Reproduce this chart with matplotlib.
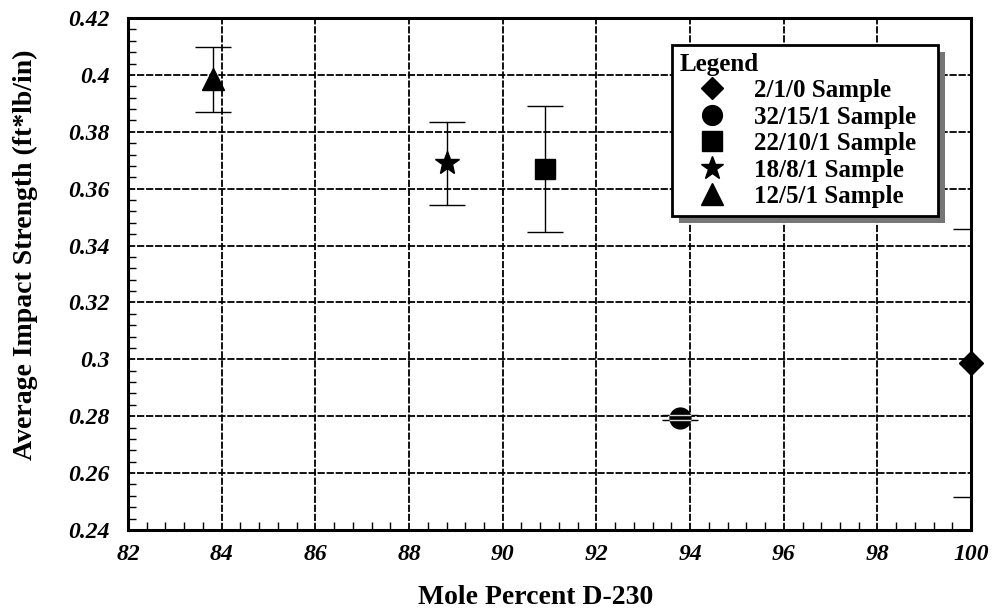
import matplotlib
matplotlib.use("Agg")
import matplotlib.pyplot as plt
from matplotlib.ticker import MultipleLocator, FuncFormatter
from matplotlib.lines import Line2D
from matplotlib.patches import Rectangle
from matplotlib.transforms import IdentityTransform

plt.rcParams['font.family'] = ['Liberation Serif', 'DejaVu Serif']

# Data
samples = ["2/1/0 Sample", "32/15/1 Sample", "22/10/1 Sample", "18/8/1 Sample", "12/5/1 Sample"]
mole_pct = [100.0, 93.79, 90.9, 88.81, 83.82]
impact = [0.2987, 0.2795, 0.3669, 0.369, 0.3985]
err = [0.047, 0.001, 0.022, 0.0146, 0.0114]
markers = ["D", "o", "s", "*", "^"]
msizes = [12, 15, 15, 18, 16]

xticks = [82, 84, 86, 88, 90, 92, 94, 96, 98, 100]
yticks = [0.24, 0.26, 0.28, 0.30, 0.32, 0.34, 0.36, 0.38, 0.40, 0.42]

fig = plt.figure(figsize=(9.92, 6.13), dpi=100)
ax = fig.add_axes([0.129, 0.1354, 0.850, 0.8352])

for x, y, e, m, s in zip(mole_pct, impact, err, markers, msizes):
    ax.errorbar(x, y, yerr=e, fmt='none', ecolor='black', elinewidth=1.0,
                capsize=13, capthick=1.0, zorder=3)
    ax.plot(x, y, marker=m, markersize=s, color='black', linestyle='none',
            zorder=4, clip_on=False)
    if e < 0.002:
        ax.errorbar(x, y, yerr=e, fmt='none', ecolor='#dddddd', elinewidth=0,
                    capsize=8, capthick=1.0, zorder=5)

ax.set_xlim(82, 100)
ax.set_ylim(0.24, 0.42)
ax.set_xticks(xticks)
ax.set_yticks(yticks)
ax.xaxis.set_minor_locator(MultipleLocator(0.4))
ax.yaxis.set_minor_locator(MultipleLocator(0.004))

def yfmt(v, pos):
    return f"{v:.2f}".rstrip('0').rstrip('.')
ax.yaxis.set_major_formatter(FuncFormatter(yfmt))
ax.xaxis.set_major_formatter(FuncFormatter(lambda v, p: f"{int(round(v))}"))

ax.grid(True, which='major', color='black', linestyle=(0, (4, 1)), linewidth=1.3, zorder=1)
ax.set_axisbelow(True)

ax.tick_params(axis='both', which='both', direction='in', top=False, right=False)
ax.tick_params(axis='both', which='major', length=0)
ax.tick_params(axis='y', which='major', pad=13)
ax.tick_params(axis='x', which='major', pad=10)
ax.tick_params(axis='both', which='minor', length=6, width=1)
for lab in ax.get_xticklabels() + ax.get_yticklabels():
    lab.set_fontsize(17)
    lab.set_fontweight('bold')
    lab.set_fontstyle('italic')

for sp in ax.spines.values():
    sp.set_linewidth(2.2)

ax.set_xlabel("Mole Percent D-230", fontsize=20, fontweight='bold')
ax.set_ylabel("Average Impact Strength (ft*lb/in)", fontsize=20, fontweight='bold')
ax.xaxis.set_label_coords(0.483, -0.108)
ax.yaxis.set_label_coords(-0.107, 0.537)

handles = [Line2D([0], [0], marker=m, color='black', linestyle='none', markersize=s * 0.95)
           for m, s in zip(markers, msizes)]
leg = ax.legend(handles, samples, title="Legend", loc='upper left',
                bbox_to_anchor=(0.6453, 0.6, 0.3156, 0.3473), mode='expand',
                frameon=True, fancybox=False,
                shadow=False, edgecolor='black', framealpha=1.0,
                prop={'weight': 'bold', 'size': 18}, handletextpad=0.36,
                labelspacing=0.14, borderpad=0.3, handlelength=2.6,
                borderaxespad=0.0,
                title_fontproperties={'weight': 'bold', 'size': 18},
                alignment='left')
leg.get_frame().set_linewidth(2.0)
leg.set_zorder(10)

# legend drop shadow (below the legend)
fig.canvas.draw()
bb = leg.get_frame().get_window_extent()
sh = Rectangle((bb.x0 + 7, bb.y0 - 7), bb.width, bb.height, transform=IdentityTransform(),
               facecolor='#767676', edgecolor='none', zorder=9, clip_on=False)
ax.add_artist(sh)

fig.savefig("out.png", dpi=100)
